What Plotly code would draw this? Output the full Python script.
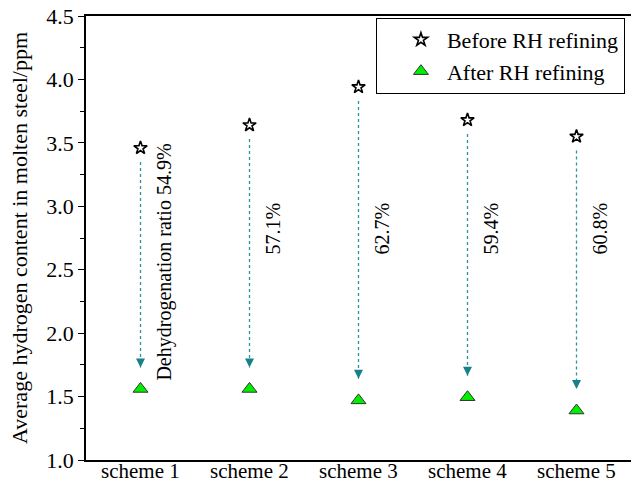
import plotly.graph_objects as go

schemes = ["scheme 1", "scheme 2", "scheme 3", "scheme 4", "scheme 5"]
before_rh = [3.46, 3.64, 3.94, 3.68, 3.55]
after_rh = [1.56, 1.56, 1.47, 1.495, 1.39]
ratio_labels = ["Dehydrogenation ratio 54.9%", "57.1%", "62.7%", "59.4%", "60.8%"]
label_y = [2.56, 2.82, 2.82, 2.82, 2.82]

FONT = "Times New Roman, Liberation Serif, DejaVu Serif, serif"
TEAL = "#2a9696"
TEAL_HEAD = "#17808a"

fig = go.Figure()

# dashed arrows
for i, s in enumerate(schemes):
    y0 = before_rh[i] - 0.11
    y1 = after_rh[i] + 0.17
    fig.add_trace(go.Scatter(
        x=[s, s], y=[y0, y1], mode="lines",
        line=dict(color=TEAL, width=1.3, dash="3px,3px"),
        showlegend=False, hoverinfo="skip"))
    fig.add_trace(go.Scatter(
        x=[s], y=[y1], mode="markers",
        marker=dict(symbol="arrow-down", size=9, color=TEAL_HEAD, line=dict(width=0)),
        showlegend=False, hoverinfo="skip"))

fig.add_trace(go.Scatter(
    x=schemes, y=before_rh, mode="markers", name="Before RH refining",
    marker=dict(symbol="star-open", size=10, color="black", line=dict(width=1.6, color="black"))))
fig.add_trace(go.Scatter(
    x=schemes, y=after_rh, mode="markers", name="After RH refining",
    marker=dict(symbol="triangle-up", size=13, color="#00ee00", line=dict(width=1, color="#333333"))))

for i, s in enumerate(schemes):
    fig.add_annotation(x=s, y=label_y[i], text=ratio_labels[i], textangle=-90,
                       showarrow=False, xshift=24,
                       font=dict(family=FONT, size=20, color="black"))
    # category labels below the axis
    fig.add_annotation(x=s, y=0, yref="paper", yanchor="top", text=s,
                       showarrow=False, yshift=2, borderpad=0,
                       font=dict(family=FONT, size=21, color="black"))

fig.update_layout(
    width=631, height=483,
    margin=dict(l=86, r=0, t=16, b=23),
    paper_bgcolor="white", plot_bgcolor="white",
    font=dict(family=FONT, size=22, color="black"),
    showlegend=True,
    legend=dict(x=0.532, y=0.996, xanchor="left", yanchor="top",
                bordercolor="black", borderwidth=1, bgcolor="white",
                font=dict(family=FONT, size=22, color="black"),
                indentation=18, tracegroupgap=0, itemwidth=42),
    xaxis=dict(type="category", categoryorder="array", categoryarray=schemes,
               range=[-0.5, 4.5], showline=True, linecolor="black", linewidth=1.5,
               mirror=True, ticks="", showgrid=False, zeroline=False,
               showticklabels=False, automargin=False),
    yaxis=dict(range=[1.0, 4.5], tickvals=[1.0, 1.5, 2.0, 2.5, 3.0, 3.5, 4.0, 4.5],
               ticktext=["1.0", "1.5", "2.0", "2.5", "3.0", "3.5", "4.0", "4.5"],
               showline=True, linecolor="black", linewidth=1.5,
               ticks="outside", ticklen=6, tickwidth=1.2, tickcolor="black",
               minor=dict(tickvals=[1.25, 1.75, 2.25, 2.75, 3.25, 3.75, 4.25],
                          ticks="outside", ticklen=4, tickwidth=1.2, tickcolor="black"),
               showgrid=False, zeroline=False, automargin=False,
               tickfont=dict(family=FONT, size=22),
               title=dict(text="Average hydrogen content in molten steel/ppm",
                          font=dict(family=FONT, size=22), standoff=13)),
)

fig.write_html("out.html")
